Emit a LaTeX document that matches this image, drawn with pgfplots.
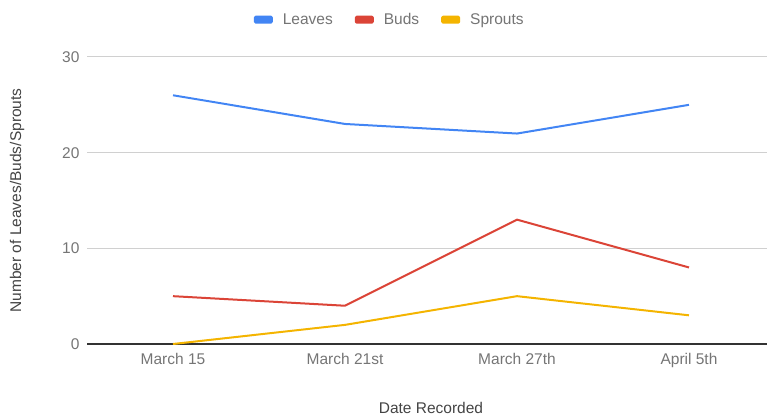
\documentclass[border=0pt]{standalone}
\usepackage{pgfplots}
\pgfplotsset{compat=1.18}
\usepackage{fontspec}
\setmainfont{Liberation Sans}
\definecolor{leaves}{HTML}{4285F4}
\definecolor{buds}{HTML}{DB4437}
\definecolor{sprouts}{HTML}{F4B400}
\definecolor{ticktxt}{HTML}{757575}
\definecolor{titletxt}{HTML}{444444}
\definecolor{gridc}{HTML}{D0D0D0}
\begin{document}
\begin{tikzpicture}[x=1pt,y=1pt]
\begin{axis}[
    at={(87pt,74pt)}, anchor=south west,
    scale only axis,
    width=688pt, height=287pt,
    xmin=-0.5, xmax=3.5,
    ymin=0, ymax=30,
    xtick={0,1,2,3},
    xticklabels={March 15,March 21st,March 27th,April 5th},
    ytick={0,10,20,30},
    major tick length=0pt,
    axis x line*=bottom, axis y line*=left,
    x axis line style={draw=black!80, line width=1.2pt, -},
    y axis line style={draw=none},
    ymajorgrids,
    grid style={gridc, line width=1pt},
    /pgf/number format/assume math mode=true,
    tick label style={font=\fontsize{15.5}{18}\selectfont, text=ticktxt},
    yticklabel style={xshift=-4pt},
    xticklabel style={yshift=-6pt},
    label style={font=\fontsize{15.5}{18}\selectfont, text=titletxt},
    xlabel={Date Recorded},
    xlabel style={at={(axis description cs:0.5,-0.223)}, anchor=center},
    ylabel={Number of Leaves/Buds/Sprouts},
    ylabel style={at={(axis description cs:-0.1017,0.5)}, anchor=center, rotate=0},
    legend columns=3,
    legend style={at={(axis description cs:0.44,1.13)}, anchor=center, draw=none,
        font=\fontsize{15.5}{18}\selectfont, text=ticktxt,
        /tikz/every even column/.append style={column sep=20pt}},
    legend image code/.code={
        \fill[#1, rounded corners=1pt] (0pt,-3pt) rectangle (17pt,3pt);
        \path (25pt,0pt);},
    clip=false,
]
\addplot[leaves, line width=2pt, line join=round, no marks] coordinates {(0,26) (1,23) (2,22) (3,25)};
\addlegendentry{Leaves}
\addplot[buds, line width=2pt, line join=round, no marks] coordinates {(0,5) (1,4) (2,13) (3,8)};
\addlegendentry{Buds}
\addplot[sprouts, line width=2pt, line join=round, no marks] coordinates {(0,0) (1,2) (2,5) (3,3)};
\addlegendentry{Sprouts}
\end{axis}
\pgfresetboundingbox
\path[use as bounding box] (0,0) rectangle (767,418);
\end{tikzpicture}
\end{document}
